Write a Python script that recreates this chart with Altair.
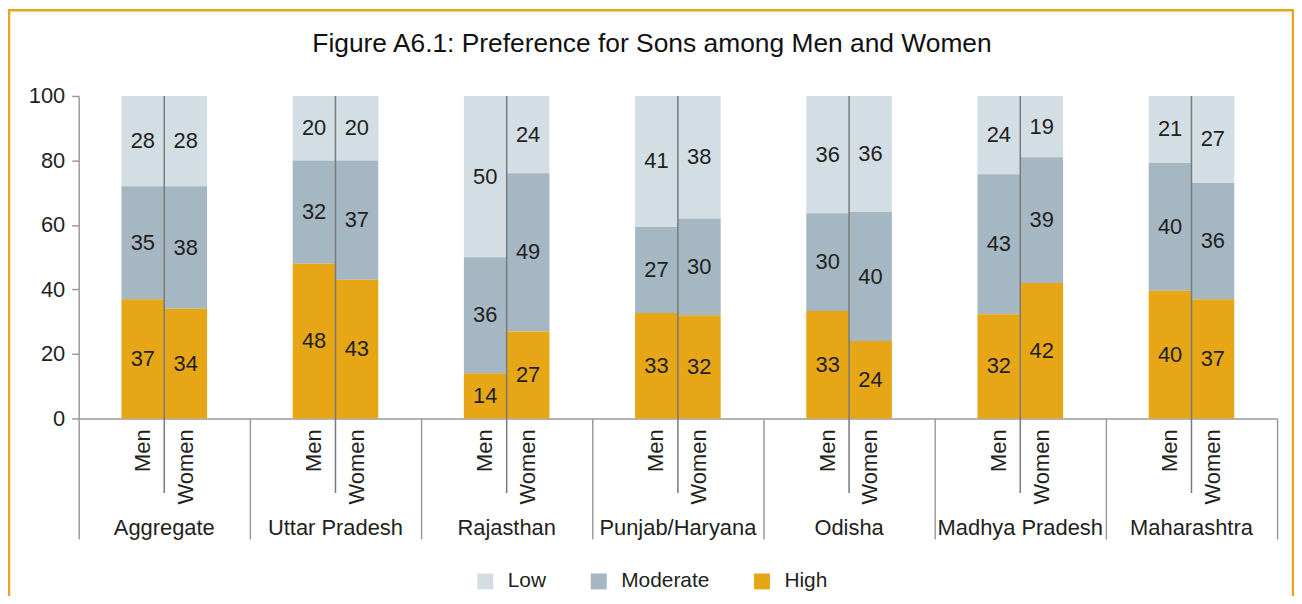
import altair as alt
import pandas as pd

FONT = "Liberation Sans"
TEXT_COLOR = "#231F20"
AXIS_GRAY = "#9A9A9A"

regions = ["Aggregate", "Uttar Pradesh", "Rajasthan", "Punjab/Haryana",
           "Odisha", "Madhya Pradesh", "Maharashtra"]
genders = ["Men", "Women"]
levels = ["Low", "Moderate", "High"]
level_colors = ["#D3DEE4", "#A4B7C2", "#E6A615"]
stack_order = ["High", "Moderate", "Low"]

high_men = [37, 48, 14, 33, 33, 32, 40]
high_women = [34, 43, 27, 32, 24, 42, 37]
moderate_men = [35, 32, 36, 27, 30, 43, 40]
moderate_women = [38, 37, 49, 30, 40, 39, 36]
low_men = [28, 20, 50, 41, 36, 24, 21]
low_women = [28, 20, 24, 38, 36, 19, 27]

y_ticks = [0, 20, 40, 60, 80, 100]
title_text = "Figure A6.1: Preference for Sons among Men and Women"

series = {
    ("Men", "High"): high_men, ("Women", "High"): high_women,
    ("Men", "Moderate"): moderate_men, ("Women", "Moderate"): moderate_women,
    ("Men", "Low"): low_men, ("Women", "Low"): low_women,
}

rows = []
for i, reg in enumerate(regions):
    for gp, g in enumerate(genders):
        for lv in levels:
            rows.append(dict(region=reg, idx=i, gender=g, gpos=gp, level=lv,
                             order=stack_order.index(lv), value=series[(g, lv)][i]))
df = pd.DataFrame(rows)
reg_df = pd.DataFrame({"region": regions, "idx": list(range(len(regions)))})
gen_df = pd.DataFrame([dict(region=r, idx=i, gender=g, gpos=gp)
                       for i, r in enumerate(regions) for gp, g in enumerate(genders)])
title_df = pd.DataFrame({"t": [title_text]})

xscale = alt.Scale(domain=[0, len(regions)], nice=False, zero=False)
yscale = alt.Scale(domain=[0, 100], nice=False)

xaxis = alt.Axis(values=list(range(len(regions) + 1)), tickSize=121, labels=False,
                 grid=False, title=None, domainColor=AXIS_GRAY, tickColor=AXIS_GRAY,
                 tickWidth=1.5, domainWidth=1.5)
yaxis = alt.Axis(values=y_ticks, grid=False, title=None, tickSize=7, labelPadding=7,
                 domainColor=AXIS_GRAY, tickColor=AXIS_GRAY, tickWidth=1.5,
                 domainWidth=1.5, labelFontSize=22, labelFont=FONT, labelColor=TEXT_COLOR)

stacked = alt.Chart(df).transform_stack(
    stack="value", groupby=["region", "gender"], as_=["s0", "s1"], offset="normalize",
    sort=[alt.SortField("order", order="ascending")],
).transform_calculate(
    y0="datum.s0 * 100",
    y1="datum.s1 * 100",
    xs="datum.idx + 0.25 + 0.25*datum.gpos",
    xe="datum.idx + 0.5 + 0.25*datum.gpos",
    xc="datum.idx + 0.375 + 0.25*datum.gpos",
    ymid="(datum.s0 + datum.s1) * 50",
)

bars = stacked.mark_bar().encode(
    x=alt.X("xs:Q", scale=xscale, axis=xaxis),
    x2="xe:Q",
    y=alt.Y("y0:Q", scale=yscale, axis=yaxis),
    y2="y1:Q",
    color=alt.Color("level:N", scale=alt.Scale(domain=levels, range=level_colors),
                    legend=alt.Legend(orient="none", legendX=398, legendY=477,
                                      direction="horizontal", title=None, symbolType="square",
                                      symbolSize=256, symbolStrokeWidth=0, labelFontSize=21,
                                      labelFont=FONT, labelColor=TEXT_COLOR, labelOffset=12,
                                      columnPadding=42, padding=0)),
)

value_text = stacked.mark_text(font=FONT, fontSize=22, color=TEXT_COLOR).encode(
    x=alt.X("xc:Q", scale=xscale, axis=xaxis),
    y=alt.Y("ymid:Q", scale=yscale, axis=yaxis),
    text="value:Q",
)

dividers = alt.Chart(reg_df).transform_calculate(xd="datum.idx + 0.5").mark_rule(
    color="#7A7A7A", strokeWidth=1.5).encode(
    x=alt.X("xd:Q", scale=xscale, axis=xaxis),
    y=alt.value(0), y2=alt.value(399),
)

gender_text = alt.Chart(gen_df).transform_calculate(
    xg="datum.idx + 0.375 + 0.25*datum.gpos").mark_text(
    angle=270, align="right", baseline="middle", font=FONT, fontSize=22, color=TEXT_COLOR).encode(
    x=alt.X("xg:Q", scale=xscale, axis=xaxis),
    y=alt.value(335),
    text="gender:N",
)

group_text = alt.Chart(reg_df).transform_calculate(xr="datum.idx + 0.5").mark_text(
    baseline="alphabetic", font=FONT, fontSize=22, color=TEXT_COLOR).encode(
    x=alt.X("xr:Q", scale=xscale, axis=xaxis),
    y=alt.value(441),
    text="region:N",
)

title = alt.Chart(title_df).mark_text(
    baseline="alphabetic", align="center", font=FONT, fontSize=26.5, color="#111111").encode(
    x=alt.value(576), y=alt.value(-44), text="t:N")

frame = alt.Chart(title_df).mark_rect(fillOpacity=0, stroke="#E6A520", strokeWidth=2.5).encode(
    x=alt.value(-70), x2=alt.value(1220), y=alt.value(-86), y2=alt.value(560))

chart = alt.layer(frame, bars, dividers, value_text, gender_text, group_text, title).properties(
    width=1204, height=324,
    autosize=alt.AutoSizeParams(type="none"),
    padding={"left": 71, "top": 87, "right": 17, "bottom": 177},
).configure_view(strokeWidth=0)

chart.save("out.html", embed_options={"renderer": "svg", "actions": False})
